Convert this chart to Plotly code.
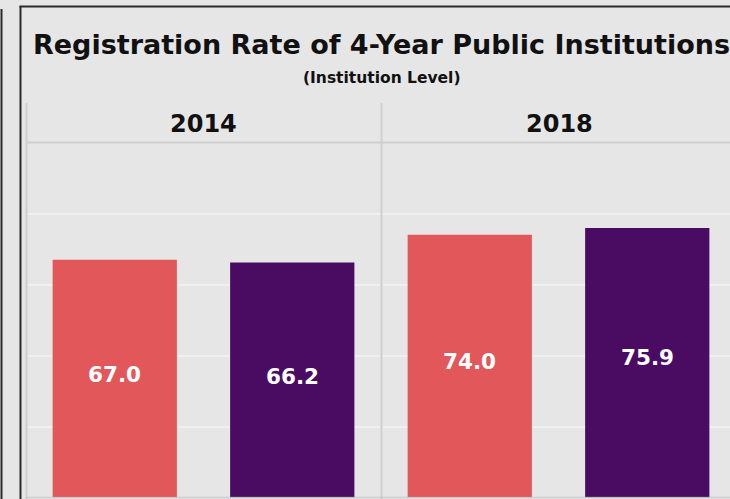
import plotly.graph_objects as go

# ---- data ----
years = ["2014", "2018"]
groups = ["Group A", "Group B"]
rates_2014 = [67.0, 66.2]
rates_2018 = [74.0, 75.9]
bar_colors = ["#e25759", "#490c62"]
title_text = "Registration Rate of 4-Year Public Institutions"
subtitle_text = "(Institution Level)"

W, H = 730, 499
FONT = "DejaVu Sans"


def px(x):
    return x / W


def py(y):
    return 1 - y / H


plot_top, plot_bot = 142.5, 497.5
f1_left, f_mid, f2_right = 26, 381, 730

fig = go.Figure()
fig.add_trace(go.Bar(x=groups, y=rates_2014, marker_color=bar_colors, width=0.7,
                     marker_line_width=0, xaxis="x", yaxis="y", hoverinfo="x+y"))
fig.add_trace(go.Bar(x=groups, y=rates_2018, marker_color=bar_colors, width=0.7,
                     marker_line_width=0, xaxis="x2", yaxis="y", hoverinfo="x+y"))

annotations = []
for xa, vals in (("x", rates_2014), ("x2", rates_2018)):
    for g, v in zip(groups, vals):
        annotations.append(dict(x=g, y=v * 0.55 - 2.3, xref=xa, yref="y", text=f"<b>{v:.1f}</b>",
                                showarrow=False, font=dict(family=FONT, size=21.5, color="white"),
                                xanchor="center", yanchor="middle"))

annotations.append(dict(x=px(382), y=py(45), xref="paper", yref="paper", text=f"<b>{title_text}</b>",
                        showarrow=False, font=dict(family=FONT, size=27, color="#111111"),
                        xanchor="center", yanchor="middle"))
annotations.append(dict(x=px(382), y=py(78), xref="paper", yref="paper", text=f"<b>{subtitle_text}</b>",
                        showarrow=False, font=dict(family=FONT, size=15.5, color="#111111"),
                        xanchor="center", yanchor="middle"))
for cx, yr in ((203.5, years[0]), (559, years[1])):
    annotations.append(dict(x=px(cx), y=py(124.5), xref="paper", yref="paper", text=f"<b>{yr}</b>",
                            showarrow=False, font=dict(family=FONT, size=24, color="#111111"),
                            xanchor="center", yanchor="middle"))

shapes = [
    # header bottom line
    dict(type="line", xref="paper", yref="paper", x0=px(f1_left), x1=1, y0=py(142.5), y1=py(142.5),
         line=dict(color="#cfcfcf", width=2)),
    # facet left border
    dict(type="line", xref="paper", yref="paper", x0=px(26.5), x1=px(26.5), y0=py(103), y1=0,
         line=dict(color="#cfcfcf", width=2)),
    # facet divider
    dict(type="line", xref="paper", yref="paper", x0=px(381.5), x1=px(381.5), y0=py(103), y1=0,
         line=dict(color="#cfcfcf", width=2)),
    # zero line
    dict(type="line", xref="paper", yref="paper", x0=px(f1_left), x1=1, y0=py(497.5), y1=py(497.5),
         line=dict(color="rgba(190,190,190,0.6)", width=1.5), layer="above"),
    # black dashboard borders
    dict(type="line", xref="paper", yref="paper", x0=px(1.5), x1=px(1.5), y0=py(9), y1=0,
         line=dict(color="#2a2a2a", width=2)),
    dict(type="line", xref="paper", yref="paper", x0=px(20.5), x1=px(20.5), y0=py(6), y1=0,
         line=dict(color="#2a2a2a", width=2)),
    dict(type="line", xref="paper", yref="paper", x0=px(19.5), x1=1, y0=py(6.5), y1=py(6.5),
         line=dict(color="#2a2a2a", width=2)),
]

yd = [py(plot_bot), py(plot_top)]
fig.update_layout(
    width=W, height=H,
    margin=dict(l=0, r=0, t=0, b=0),
    paper_bgcolor="#e6e6e6", plot_bgcolor="#e6e6e6",
    showlegend=False, bargap=0.3,
    xaxis=dict(domain=[px(f1_left), px(f_mid)], range=[-0.5, 1.5], showticklabels=False,
               showgrid=False, zeroline=False, showline=False, ticks=""),
    xaxis2=dict(domain=[px(f_mid), px(f2_right)], range=[-0.5, 1.5 - 6 / 177.5], showticklabels=False,
                showgrid=False, zeroline=False, showline=False, ticks=""),
    yaxis=dict(domain=yd, range=[0, 100], dtick=20, showticklabels=False, showgrid=True,
               gridcolor="#f0f0f0", gridwidth=1.5, zeroline=False, showline=False, ticks=""),
    annotations=annotations,
    shapes=shapes,
)

fig.write_html(
    "out.html",
    config={"displayModeBar": False},
    post_script="document.body.style.margin='0';document.body.style.padding='0';"
                "document.body.style.background='#e6e6e6';document.body.style.overflow='hidden';",
)
